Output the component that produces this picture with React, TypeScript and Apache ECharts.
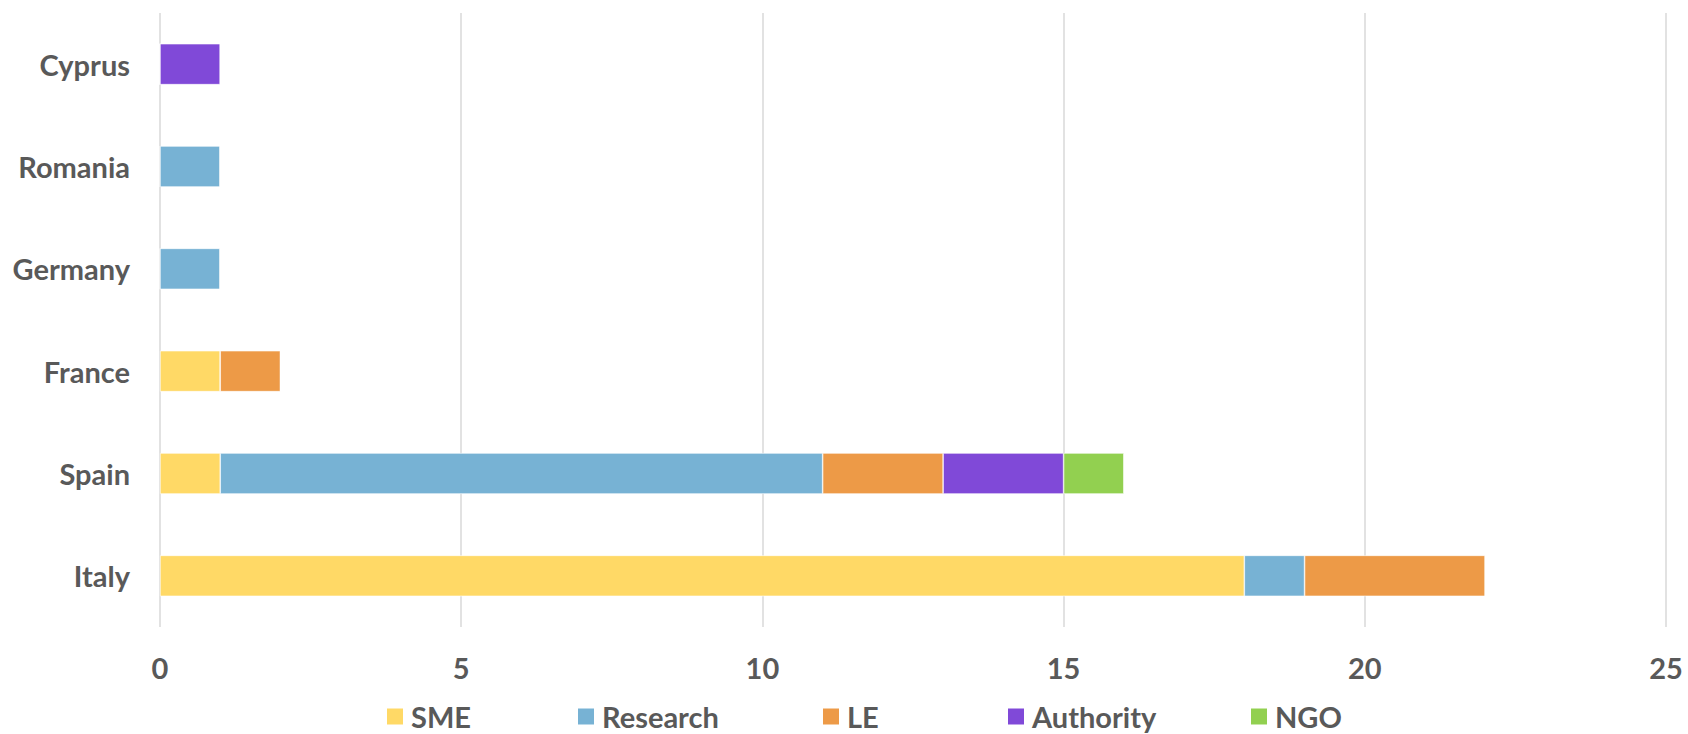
import React, { useEffect, useRef } from "react";
import * as echarts from "echarts";

const categories = ["Italy", "Spain", "France", "Germany", "Romania", "Cyprus"];
const seriesNames = ["SME", "Research", "LE", "Authority", "NGO"];
const smeValues = [18, 1, 1, 0, 0, 0];
const researchValues = [1, 10, 0, 1, 1, 0];
const leValues = [3, 2, 1, 0, 0, 0];
const authorityValues = [0, 2, 0, 0, 0, 1];
const ngoValues = [0, 1, 0, 0, 0, 0];
const xTicks = [0, 5, 10, 15, 20, 25];

const colors = ["#FFD966", "#77B2D4", "#ED9A47", "#8049D8", "#92D050"];
const legendLefts = [385, 576, 821, 1006, 1249];

export default function App() {
  const ref = useRef<HTMLDivElement>(null);
  useEffect(() => {
    if (!ref.current) return;
    const chart = echarts.init(ref.current, undefined, { renderer: "svg" });
    const values = [smeValues, researchValues, leValues, authorityValues, ngoValues];
    const font = "Lato, 'Open Sans', sans-serif";
    chart.setOption({
      animation: false,
      grid: { left: 160, right: 22, top: 13, bottom: 107, containLabel: false },
      xAxis: {
        type: "value",
        min: xTicks[0],
        max: xTicks[xTicks.length - 1],
        interval: 5,
        axisLine: { show: false },
        axisTick: { show: false },
        splitLine: { show: true, lineStyle: { color: "#D9D9D9", width: 1.5 } },
        axisLabel: {
          margin: 26,
          color: "#595959",
          fontSize: 29,
          fontWeight: "bold",
          fontFamily: font,
        },
      },
      yAxis: {
        type: "category",
        data: categories,
        axisLine: { show: false },
        axisTick: { show: false },
        axisLabel: {
          margin: 30,
          color: "#595959",
          fontSize: 29,
          fontWeight: "bold",
          fontFamily: font,
        },
      },
      legend: seriesNames.map((name, i) => ({
        data: [name],
        left: legendLefts[i],
        top: 702,
        itemWidth: 18,
        itemHeight: 18,
        icon: "rect",
        itemGap: 0,
        padding: 0,
        textStyle: {
          color: "#595959",
          fontSize: 29,
          fontWeight: "bold",
          fontFamily: font,
          padding: [0, 0, 0, 2],
        },
      })),
      series: seriesNames.map((name, i) => ({
        name,
        type: "bar",
        stack: "total",
        barWidth: "40%",
        data: values[i],
        itemStyle: { color: colors[i], borderColor: "#ffffff", borderWidth: 0.6 },
      })),
    });
    return () => chart.dispose();
  }, []);
  return (
    <div
      ref={ref}
      style={{ position: "fixed", left: 0, top: 0, width: 1688, height: 734, background: "#fff" }}
    />
  );
}
